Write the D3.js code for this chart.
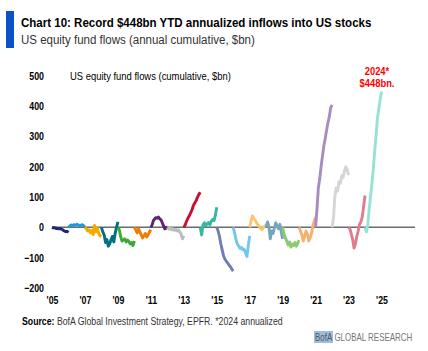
<!DOCTYPE html>
<html>
<head>
<meta charset="utf-8">
<script src="https://cdn.jsdelivr.net/npm/d3@7"></script>
<style>
  body { margin: 0; background: #fff; }
  svg { display: block; font-family: "Liberation Sans", "DejaVu Sans", sans-serif; }
</style>
</head>
<body>
<svg id="chart" width="428" height="351"></svg>
<script>
// annual cumulative flows ($bn)
const years = d3.range(2005, 2025)
const flows = [
  [0, -2, -1, -4, -3, -5, -4, -6, -9, -12, -14, -13, -17],          // 2005
  [0, 4, 8, 5, 9, 6, 10, 8, 4, 7, 9, 5, 2],                          // 2006
  [0, -5, -12, -8, -18, -10, -24, 6, -15, -2, -20, -28, -30],        // 2007
  [0, -15, -25, -50, -40, -62, -55, -40, -30, -48, -20, 0, 18],      // 2008
  [0, -8, -30, -45, -42, -38, -48, -42, -47, -55, -50, -60, -45],    // 2009
  [0, -8, -18, -5, -15, -25, -35, -28, -20, -32, -25, -15, -8],      // 2010
  [0, 8, 22, 28, 32, 30, 34, 28, 25, 15, 5, -5, 0, -6],              // 2011
  [0, -6, -2, -8, -4, -10, -6, -12, -8, -15, -22, -38, -28],         // 2012
  [0, 8, 20, 30, 38, 48, 58, 72, 80, 88, 100, 108, 116],             // 2013
  [0, -25, 8, 15, 5, 12, 16, 8, 20, 26, 22, 40, 66],                 // 2014
  [0, -12, -30, -55, -75, -95, -105, -112, -118, -125, -130, -138, -144], // 2015
  [0, -18, -40, -55, -62, -70, -66, -74, -72, -85, -96, -60, -28],   // 2016
  [0, 22, 38, 28, 24, 15, 8, 2, -4, -8, 0, 4, 8],                    // 2017
  [0, 18, 2, -38, -12, -20, -2, 15, 5, -5, 10, -15, -38],            // 2018
  [0, -22, -35, -45, -58, -48, -65, -55, -60, -50, -62, -52, -42],   // 2019
  [0, -12, -25, -45, -30, -12, -22, -45, -35, -20, 5, 20, 34],       // 2020
  [0, 60, 130, 160, 200, 235, 268, 293, 320, 345, 365, 395, 404],    // 2021
  [0, 30, 100, 130, 120, 150, 145, 170, 165, 185, 200, 190, 172],    // 2022
  [0, -5, -22, -40, -68, -55, -30, -12, 10, 18, 35, 70, 105],        // 2023
  [0, -15, 8, 60, 100, 143, 190, 250, 300, 358, 390, 420, 448]       // 2024 annualized
]
const colors = [
  "#1b2a6b", "#1e9ad6", "#f5a800", "#006f81", "#3aa935", "#f07c00", "#5e2272",
  "#bdbdbd", "#c8102e", "#34b7a3", "#6d7fb2", "#74c7ec", "#f7c66f", "#73a8ba",
  "#8ccc70", "#f6b06f", "#a98cbf", "#d5d5d5", "#e27c8c", "#96e3d4"
]
const yTicks = [-200, -100, 0, 100, 200, 300, 400, 500]
const xTicks = d3.range(2005, 2026, 2)

const svg = d3.select("#chart")

// no condensed font installed: squeeze text horizontally to the width seen in the picture
function squeeze(t, width, ox) {
  const w = t.node().getBBox().width
  const k = width / w
  t.attr("transform", `translate(${ox},0) scale(${k},1) translate(${-ox},0)`)
}

// header
svg.append("rect").attr("x", 6).attr("y", 11).attr("width", 8).attr("height", 37).attr("fill", "#0a52c8")
const title = svg.append("text").attr("x", 21).attr("y", 27)
  .attr("font-size", 13).attr("font-weight", "bold").attr("fill", "#000")
  .text("Chart 10: Record $448bn YTD annualized inflows into US stocks")
squeeze(title, 351, 21)
const sub = svg.append("text").attr("x", 21).attr("y", 44)
  .attr("font-size", 12.5).attr("fill", "#333")
  .text("US equity fund flows (annual cumulative, $bn)")
squeeze(sub, 234, 21)

const x = d3.scaleLinear().domain([2005, 2025]).range([52, 381.5])
const y = d3.scaleLinear().domain([-200, 500]).range([288, 75.7])

// y labels
const yAxis = svg.append("g").attr("transform", "translate(44,0)")
  .call(d3.axisLeft(y).tickValues(yTicks).tickSize(0).tickPadding(0))
yAxis.select(".domain").remove()
yAxis.selectAll("text").attr("font-size", 11).attr("font-family", null).attr("fill", "#000").attr("font-weight", "bold")
  .attr("transform", "scale(0.8,1)")

// x labels
const xAxis = svg.append("g").attr("transform", "translate(0,296)")
  .call(d3.axisBottom(x).tickValues(xTicks).tickSize(0).tickPadding(0)
    .tickFormat(d => "'" + String(d).slice(2)))
xAxis.select(".domain").remove()
xAxis.selectAll("text").attr("font-size", 11).attr("font-family", null).attr("fill", "#000").attr("font-weight", "bold")
  .attr("transform", "scale(0.8,1)")

// zero line
svg.append("line").attr("x1", 52).attr("x2", 415).attr("y1", y(0)).attr("y2", y(0))
  .attr("stroke", "#6b6b6b").attr("stroke-width", 1.5)

const line = d3.line().x(d => x(d[0])).y(d => y(d[1]))

svg.append("g").selectAll("path")
  .data(years)
  .join("path")
  .attr("d", (yr, i) => {
    const v = flows[i]
    return line(v.map((d, j) => [yr + j / (v.length - 1), d]))
  })
  .attr("fill", "none")
  .attr("stroke", (d, i) => colors[i])
  .attr("stroke-width", 2.9)
  .attr("stroke-linejoin", "round")

// inner label
const inner = svg.append("text").attr("x", 70).attr("y", 80).attr("font-size", 10.5).attr("fill", "#000")
  .text("US equity fund flows (cumulative, $bn)")
squeeze(inner, 161, 70)

// annotation
const a1 = svg.append("text").attr("text-anchor", "middle").attr("fill", "#ff0000")
  .attr("font-size", 11).attr("font-weight", "bold").attr("x", 377).attr("y", 75).text("2024*")
squeeze(a1, 25, 377)
const a2 = svg.append("text").attr("text-anchor", "middle").attr("fill", "#ff0000")
  .attr("font-size", 11).attr("font-weight", "bold").attr("x", 377).attr("y", 87).text("$448bn.")
squeeze(a2, 35, 377)

// source
const src = svg.append("text").attr("x", 22).attr("y", 325).attr("font-size", 10).attr("fill", "#333")
src.append("tspan").attr("font-weight", "bold").attr("fill", "#000").text("Source:")
src.append("tspan").text(" BofA Global Investment Strategy, EPFR. *2024 annualized")
squeeze(src, 261, 22)

// footer brand
svg.append("rect").attr("x", 314).attr("y", 331).attr("width", 19).attr("height", 12).attr("fill", "#9fbde0")
const brand = svg.append("text").attr("x", 315).attr("y", 341).attr("font-size", 10.5).attr("fill", "#777")
brand.append("tspan").attr("fill", "#555").text("BofA")
brand.append("tspan").text(" GLOBAL RESEARCH")
squeeze(brand, 97, 315)
</script>
</body>
</html>
